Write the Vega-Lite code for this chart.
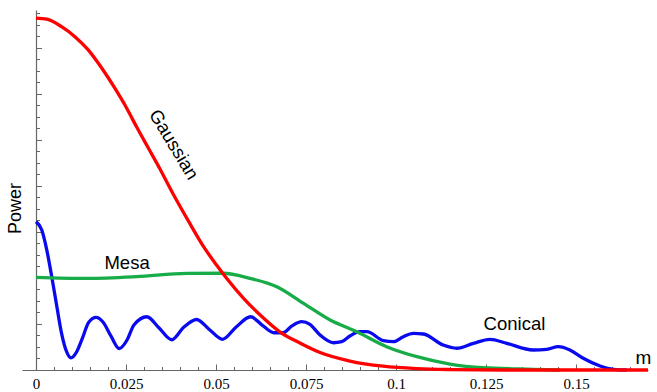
{
  "$schema": "https://vega.github.io/schema/vega-lite/v6.json",
  "width": 626,
  "height": 360,
  "autosize": {"type": "none"},
  "padding": {"left": 22, "top": 10, "right": 9, "bottom": 22},
  "background": "white",
  "config": {"view": {"stroke": null}},
  "datasets": {
    "curves": [
      {"series": "Gaussian", "x": 0, "y": 30.6},
      {"series": "Gaussian", "x": 0.003, "y": 30.5},
      {"series": "Gaussian", "x": 0.0071, "y": 29.85},
      {"series": "Gaussian", "x": 0.0108, "y": 28.98},
      {"series": "Gaussian", "x": 0.0145, "y": 27.83},
      {"series": "Gaussian", "x": 0.0183, "y": 26.23},
      {"series": "Gaussian", "x": 0.0219, "y": 24.5},
      {"series": "Gaussian", "x": 0.0252, "y": 22.76},
      {"series": "Gaussian", "x": 0.028, "y": 21.1},
      {"series": "Gaussian", "x": 0.0312, "y": 19.3},
      {"series": "Gaussian", "x": 0.0344, "y": 17.5},
      {"series": "Gaussian", "x": 0.0381, "y": 15.3},
      {"series": "Gaussian", "x": 0.0428, "y": 12.7},
      {"series": "Gaussian", "x": 0.0465, "y": 10.75},
      {"series": "Gaussian", "x": 0.0502, "y": 9.1},
      {"series": "Gaussian", "x": 0.053, "y": 7.95},
      {"series": "Gaussian", "x": 0.0576, "y": 6.25},
      {"series": "Gaussian", "x": 0.0622, "y": 4.8},
      {"series": "Gaussian", "x": 0.0678, "y": 3.3},
      {"series": "Gaussian", "x": 0.0733, "y": 2.35},
      {"series": "Gaussian", "x": 0.0789, "y": 1.52},
      {"series": "Gaussian", "x": 0.0872, "y": 0.78},
      {"series": "Gaussian", "x": 0.0964, "y": 0.33},
      {"series": "Gaussian", "x": 0.1057, "y": 0.12},
      {"series": "Gaussian", "x": 0.115, "y": 0.04},
      {"series": "Gaussian", "x": 0.13, "y": 0},
      {"series": "Gaussian", "x": 0.17, "y": 0},
      {"series": "Mesa", "x": 0, "y": 8.06},
      {"series": "Mesa", "x": 0.0141, "y": 7.97},
      {"series": "Mesa", "x": 0.028, "y": 8.12},
      {"series": "Mesa", "x": 0.0419, "y": 8.4},
      {"series": "Mesa", "x": 0.052, "y": 8.41},
      {"series": "Mesa", "x": 0.0594, "y": 7.97},
      {"series": "Mesa", "x": 0.0669, "y": 7.24},
      {"series": "Mesa", "x": 0.0743, "y": 5.8},
      {"series": "Mesa", "x": 0.0817, "y": 4.35},
      {"series": "Mesa", "x": 0.0891, "y": 3.33},
      {"series": "Mesa", "x": 0.0974, "y": 2.03},
      {"series": "Mesa", "x": 0.1058, "y": 1.16},
      {"series": "Mesa", "x": 0.115, "y": 0.52},
      {"series": "Mesa", "x": 0.1243, "y": 0.2},
      {"series": "Mesa", "x": 0.1381, "y": 0.06},
      {"series": "Mesa", "x": 0.1456, "y": 0},
      {"series": "Conical", "x": 0, "y": 12.9},
      {"series": "Conical", "x": 0.0016, "y": 12.17},
      {"series": "Conical", "x": 0.003, "y": 10.43},
      {"series": "Conical", "x": 0.0044, "y": 8.06},
      {"series": "Conical", "x": 0.0058, "y": 5.5},
      {"series": "Conical", "x": 0.0071, "y": 3.19},
      {"series": "Conical", "x": 0.0085, "y": 1.59},
      {"series": "Conical", "x": 0.0097, "y": 1.05},
      {"series": "Conical", "x": 0.0113, "y": 1.59},
      {"series": "Conical", "x": 0.0127, "y": 2.61},
      {"series": "Conical", "x": 0.0147, "y": 4.17},
      {"series": "Conical", "x": 0.0167, "y": 4.57},
      {"series": "Conical", "x": 0.0186, "y": 4.17},
      {"series": "Conical", "x": 0.0208, "y": 2.96},
      {"series": "Conical", "x": 0.0231, "y": 1.87},
      {"series": "Conical", "x": 0.0253, "y": 2.61},
      {"series": "Conical", "x": 0.0272, "y": 3.91},
      {"series": "Conical", "x": 0.0308, "y": 4.63},
      {"series": "Conical", "x": 0.0342, "y": 3.65},
      {"series": "Conical", "x": 0.0377, "y": 2.63},
      {"series": "Conical", "x": 0.0411, "y": 3.74},
      {"series": "Conical", "x": 0.0446, "y": 4.39},
      {"series": "Conical", "x": 0.0483, "y": 3.48},
      {"series": "Conical", "x": 0.0518, "y": 2.67},
      {"series": "Conical", "x": 0.0556, "y": 3.74},
      {"series": "Conical", "x": 0.0596, "y": 4.63},
      {"series": "Conical", "x": 0.0628, "y": 3.91},
      {"series": "Conical", "x": 0.0661, "y": 3.24},
      {"series": "Conical", "x": 0.0686, "y": 3.24},
      {"series": "Conical", "x": 0.0711, "y": 3.83},
      {"series": "Conical", "x": 0.0738, "y": 4.2},
      {"series": "Conical", "x": 0.0761, "y": 3.96},
      {"series": "Conical", "x": 0.0789, "y": 3.04},
      {"series": "Conical", "x": 0.0826, "y": 2.37},
      {"series": "Conical", "x": 0.0849, "y": 2.46},
      {"series": "Conical", "x": 0.0872, "y": 2.96},
      {"series": "Conical", "x": 0.09, "y": 3.33},
      {"series": "Conical", "x": 0.0919, "y": 3.33},
      {"series": "Conical", "x": 0.0965, "y": 2.55},
      {"series": "Conical", "x": 0.0993, "y": 2.46},
      {"series": "Conical", "x": 0.1019, "y": 2.87},
      {"series": "Conical", "x": 0.1048, "y": 3.19},
      {"series": "Conical", "x": 0.1076, "y": 3.13},
      {"series": "Conical", "x": 0.1131, "y": 2.17},
      {"series": "Conical", "x": 0.1169, "y": 1.89},
      {"series": "Conical", "x": 0.1215, "y": 2.32},
      {"series": "Conical", "x": 0.1261, "y": 2.67},
      {"series": "Conical", "x": 0.1308, "y": 2.32},
      {"series": "Conical", "x": 0.1381, "y": 1.74},
      {"series": "Conical", "x": 0.1419, "y": 1.8},
      {"series": "Conical", "x": 0.1451, "y": 2.03},
      {"series": "Conical", "x": 0.1483, "y": 1.74},
      {"series": "Conical", "x": 0.152, "y": 1.02},
      {"series": "Conical", "x": 0.1567, "y": 0.35},
      {"series": "Conical", "x": 0.1604, "y": 0.06},
      {"series": "Conical", "x": 0.1641, "y": 0}
    ],
    "labels": [
      {"label": "Gaussian", "x": 0.0383, "y": 19.6},
      {"label": "Mesa", "x": 0.0253, "y": 8.78},
      {"label": "Conical", "x": 0.1329, "y": 3.48}
    ]
  },
  "encoding": {
    "x": {
      "field": "x",
      "type": "quantitative",
      "scale": {"domain": [-0.00389, 0.17], "nice": false, "zero": false},
      "axis": {
        "orient": "bottom",
        "values": [0, 0.005, 0.01, 0.015, 0.02, 0.025, 0.03, 0.035, 0.04, 0.045, 0.05, 0.055, 0.06, 0.065, 0.07, 0.075, 0.08, 0.085, 0.09, 0.095, 0.1, 0.105, 0.11, 0.115, 0.12, 0.125, 0.13, 0.135, 0.14, 0.145, 0.15, 0.155, 0.16, 0.165],
        "format": ".3~f",
        "labelExpr": "abs(round(datum.value*200)) % 5 == 0 ? datum.label : ''",
        "labelFont": "Liberation Serif",
        "labelFontSize": 15,
        "labelColor": "#000",
        "labelPadding": 12,
        "labelOverlap": false,
        "labelFlush": false,
        "tickSize": {"condition": {"test": "abs(round(datum.value*200)) % 5 == 0", "value": -6}, "value": -3.5},
        "tickColor": "#666",
        "domainColor": "#666",
        "domainWidth": 1.2,
        "grid": false,
        "title": "m",
        "titleFont": "Liberation Sans",
        "titleFontSize": 19,
        "titleFontWeight": "normal",
        "titleColor": "#000",
        "titleX": 621,
        "titleY": -7,
        "titleAlign": "center",
        "titleBaseline": "alphabetic"
      }
    },
    "y": {
      "field": "y",
      "type": "quantitative",
      "scale": {"domain": [0, 31.3], "nice": false, "zero": false},
      "axis": {
        "orient": "left",
        "offset": -14,
        "values": [1, 2, 3, 4, 5, 6, 7, 8, 9, 10, 11, 12, 13, 14, 15, 16, 17, 18, 19, 20, 21, 22, 23, 24, 25, 26, 27, 28, 29, 30, 31],
        "labels": false,
        "tickSize": {"condition": {"test": "datum.value % 4 == 0", "value": -5.5}, "value": -3.5},
        "tickColor": "#666",
        "domainColor": "#666",
        "domainWidth": 1.2,
        "grid": false,
        "title": "Power",
        "titleFont": "Liberation Sans",
        "titleFontSize": 18,
        "titleFontWeight": "normal",
        "titleColor": "#000",
        "titleAngle": 270,
        "titleX": -20.5,
        "titleY": 198,
        "titleAlign": "center",
        "titleBaseline": "middle"
      }
    }
  },
  "layer": [
    {
      "data": {"name": "curves"},
      "transform": [{"filter": "datum.series == 'Conical'"}],
      "mark": {"type": "line", "interpolate": "monotone", "color": "#0a0aee", "strokeWidth": 3.3}
    },
    {
      "data": {"name": "curves"},
      "transform": [{"filter": "datum.series == 'Mesa'"}],
      "mark": {"type": "line", "interpolate": "monotone", "color": "#18ac48", "strokeWidth": 3.3}
    },
    {
      "data": {"name": "curves"},
      "transform": [{"filter": "datum.series == 'Gaussian'"}],
      "mark": {"type": "line", "interpolate": "monotone", "color": "#ff0000", "strokeWidth": 3.3}
    },
    {
      "data": {"name": "labels"},
      "transform": [{"filter": "datum.label != 'Gaussian'"}],
      "mark": {"type": "text", "font": "Liberation Sans", "fontSize": 18.5, "color": "#000", "align": "center", "baseline": "alphabetic"},
      "encoding": {"text": {"field": "label"}}
    },
    {
      "data": {"name": "labels"},
      "transform": [{"filter": "datum.label == 'Gaussian'"}],
      "mark": {"type": "text", "font": "Liberation Sans", "fontSize": 18.5, "color": "#000", "align": "center", "baseline": "middle", "angle": 59},
      "encoding": {"text": {"field": "label"}}
    }
  ]
}
